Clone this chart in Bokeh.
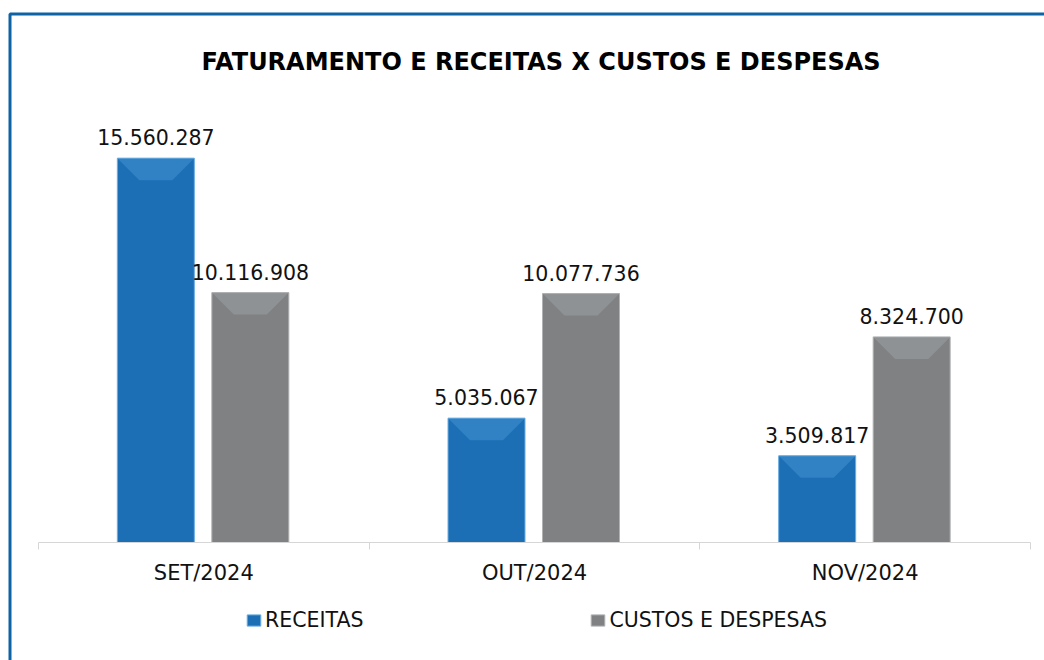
import numpy as np
from bokeh.plotting import figure
from bokeh.models import (Range1d, LinearAxis, FixedTicker, ColumnDataSource, LabelSet,
                          Legend, LegendItem, Label, BoxAnnotation)
from bokeh.core.properties import value
from bokeh.embed import file_html
from bokeh.resources import INLINE

# ---- data ----
months = ["SET/2024", "OUT/2024", "NOV/2024"]
receitas = [15560287, 5035067, 3509817]
custos = [10116908, 10077736, 8324700]
receitas_labels = ["15.560.287", "5.035.067", "3.509.817"]
custos_labels = ["10.116.908", "10.077.736", "8.324.700"]
series_names = ["RECEITAS", "CUSTOS E DESPESAS"]
title_text = "FATURAMENTO E RECEITAS X CUSTOS E DESPESAS"

FONT = "DejaVu Sans"
BLUE = "#1c6fb5"
BLUE_LIGHT = "#4a9ad8"
GRAY = "#7f8183"
GRAY_LIGHT = "#a4a6a8"
BORDER = "#0d63a5"

W, H = 1044, 660
# pixel layout of the plotting area (the whole canvas is the frame)
AX_L, AX_R, AX_Y = 38.0, 1030.0, 542.0
PX_PER_UNIT_Y = 24.7e-6          # pixels per currency unit
n = len(months)
px_per_x = (AX_R - AX_L) / n
x0 = -AX_L / px_per_x
x1 = n + (W - AX_R) / px_per_x
y1 = AX_Y / PX_PER_UNIT_Y
y0 = -(H - AX_Y) / PX_PER_UNIT_Y

def X(px):
    return x0 + px / px_per_x

def Y(py):
    return y1 - py / PX_PER_UNIT_Y

centers = np.arange(n) + 0.5
bar_w = 77 / px_per_x
x_r = centers - 48 / px_per_x
x_c = centers + 46.5 / px_per_x

p = figure(width=W, height=H, x_range=Range1d(x0, x1), y_range=Range1d(y0, y1),
           output_backend="svg", toolbar_location=None,
           x_axis_type=None, y_axis_type=None, min_border=0)
p.grid.visible = False
p.outline_line_color = None
p.background_fill_color = "white"
p.border_fill_color = "white"

src = ColumnDataSource(dict(x_r=x_r, x_c=x_c, rec=receitas, cus=custos,
                            rl=receitas_labels, cl=custos_labels))

r1 = p.vbar(x="x_r", top="rec", bottom=0, width=bar_w, source=src, fill_color=BLUE,
            line_color="#6aaee2", line_width=1)
r2 = p.vbar(x="x_c", top="cus", bottom=0, width=bar_w, source=src, fill_color=GRAY,
            line_color="#b0b2b4", line_width=1)

# bevel top faces derived from the data
dh = 22 / PX_PER_UNIT_Y
dw = 22 / px_per_x
def bevel(xs, tops):
    px, py = [], []
    for xc, t in zip(xs, tops):
        l, r = xc - bar_w / 2, xc + bar_w / 2
        px.append([l, r, r - dw, l + dw])
        py.append([t, t, t - dh, t - dh])
    return px, py

bx, by = bevel(x_r, receitas)
p.patches(bx, by, fill_color=BLUE_LIGHT, line_color=None, fill_alpha=0.45)
gx, gy = bevel(x_c, custos)
p.patches(gx, gy, fill_color=GRAY_LIGHT, line_color=None, fill_alpha=0.45)

for xcol, ycol, tcol in [("x_r", "rec", "rl"), ("x_c", "cus", "cl")]:
    p.add_layout(LabelSet(x=xcol, y=ycol, text=tcol, source=src, text_align="center",
                          text_baseline="alphabetic", y_offset=13, text_font=value(FONT),
                          text_font_size="20.5px", text_color="#111111"))

ax = LinearAxis(ticker=FixedTicker(ticks=list(centers), minor_ticks=list(range(n + 1))),
                major_label_overrides={float(c): m for c, m in zip(centers, months)},
                fixed_location=0, bounds=(0, n),
                axis_line_color="#d6d6d6", axis_line_width=1,
                major_tick_line_color=None, major_tick_out=0, major_tick_in=0,
                minor_tick_line_color="#d6d6d6", minor_tick_out=7, minor_tick_in=0,
                major_label_standoff=11, major_label_text_font=FONT,
                major_label_text_font_size="21px", major_label_text_color="#111111")
p.add_layout(ax, "below")

legend = Legend(items=[LegendItem(label=series_names[0], renderers=[r1]),
                       LegendItem(label=series_names[1], renderers=[r2])],
                orientation="horizontal", location=(245, 28), spacing=226,
                glyph_width=17, glyph_height=14, label_standoff=3,
                label_text_font=FONT, label_text_font_size="20.5px",
                label_text_color="#111111", border_line_color=None,
                padding=0, margin=0, background_fill_alpha=0)
p.add_layout(legend)

p.add_layout(Label(x=X(540.5), y=Y(61), text=title_text, text_align="center",
                   text_baseline="middle", text_font=FONT, text_font_style="bold",
                   text_font_size="24px", text_color="#000000"))

p.add_layout(BoxAnnotation(left=X(9.5), right=X(W + 50), top=Y(13.5), bottom=Y(H + 50),
                           fill_alpha=0, line_color=BORDER, line_alpha=1.0, line_width=3))

open("out.html", "w").write(file_html(p, INLINE))
